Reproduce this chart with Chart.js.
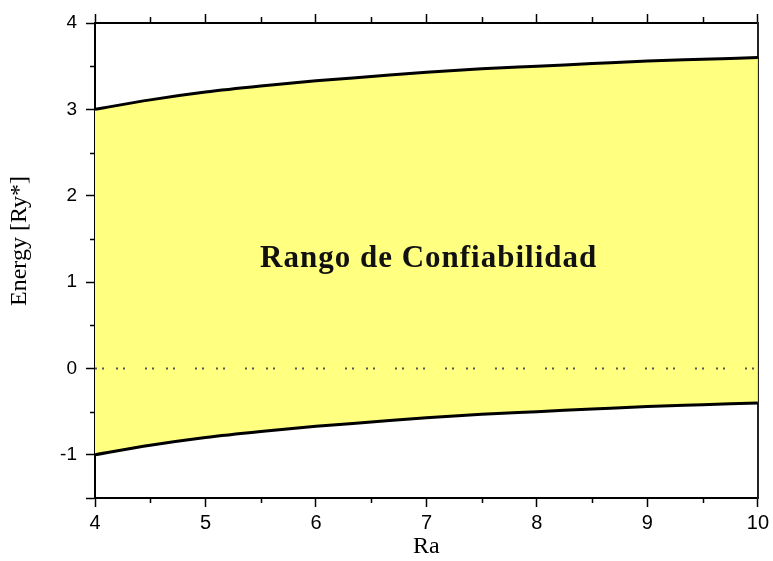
<!DOCTYPE html>
<html>
<head>
<meta charset="utf-8">
<style>
  html, body { margin: 0; padding: 0; background: #fff; }
  #wrap { width: 773px; height: 561px; }
</style>
<script src="https://cdn.jsdelivr.net/npm/chart.js@4"></script>
</head>
<body>
<div id="wrap"><canvas id="chart" width="773" height="561"></canvas></div>
<script>
// Ra values and band limits
const ra = [4, 4.5, 5, 5.5, 6, 6.5, 7, 7.5, 8, 8.5, 9, 9.5, 10];
const upperEnergy = [3.00, 3.11, 3.20, 3.27, 3.33, 3.38, 3.43, 3.47, 3.50, 3.53, 3.56, 3.58, 3.60];
const lowerEnergy = [-1.00, -0.89, -0.80, -0.73, -0.67, -0.62, -0.57, -0.53, -0.50, -0.47, -0.44, -0.42, -0.40];
const zeroLine = [0, 0];
const zeroRa = [4, 10];
const bandLabel = 'Rango de Confiabilidad';

const sansFont = "'Liberation Sans', Arial, sans-serif";
const serifFont = "'Liberation Serif', 'Times New Roman', serif";

const toPoints = (xs, ys) => xs.map((x, i) => ({ x: x, y: ys[i] }));

// minor ticks, y title and the band label
const extras = {
    id: 'extras',
    afterDraw(chart) {
        const ctx = chart.ctx;
        const x = chart.scales.x, y = chart.scales.y;
        const area = chart.chartArea;
        ctx.save();
        ctx.strokeStyle = '#000';
        ctx.lineWidth = 1.5;
        ctx.beginPath();
        for (let v = 4.5; v < 10; v += 1) {
            const px = Math.round(x.getPixelForValue(v)) + 0.5;
            ctx.moveTo(px, area.bottom); ctx.lineTo(px, area.bottom + 5);
            ctx.moveTo(px, area.top); ctx.lineTo(px, area.top - 6);
        }
        for (let v = -0.5; v < 4; v += 1) {
            const py = Math.round(y.getPixelForValue(v)) + 0.5;
            ctx.moveTo(area.left, py); ctx.lineTo(area.left - 5, py);
        }
        ctx.stroke();

        ctx.fillStyle = '#000';
        ctx.font = '24px ' + serifFont;
        ctx.textAlign = 'center';
        ctx.textBaseline = 'middle';
        ctx.translate(20, 241);
        ctx.rotate(-Math.PI / 2);
        ctx.fillText('Energy [Ry*]', 0, 0);
        ctx.restore();

        ctx.save();
        ctx.fillStyle = '#111';
        ctx.font = 'bold 31px ' + serifFont;
        ctx.letterSpacing = '1px';
        ctx.textAlign = 'center';
        ctx.textBaseline = 'alphabetic';
        ctx.fillText(bandLabel, x.getPixelForValue(7.02), y.getPixelForValue(1.18));
        ctx.restore();
    }
};

new Chart(document.getElementById('chart'), {
    type: 'line',
    data: {
        datasets: [{
            data: toPoints(ra, upperEnergy),
            borderColor: '#000',
            borderWidth: 3,
            backgroundColor: '#ffff80',
            fill: '+1',
            pointRadius: 0,
            cubicInterpolationMode: 'monotone'
        }, {
            data: toPoints(ra, lowerEnergy),
            borderColor: '#000',
            borderWidth: 3,
            fill: false,
            pointRadius: 0,
            cubicInterpolationMode: 'monotone'
        }, {
            data: toPoints(zeroRa, zeroLine),
            borderColor: '#555',
            borderWidth: 2,
            borderDash: [2, 5, 2, 12, 2, 5, 2, 20],
            fill: false,
            pointRadius: 0,
            order: -1
        }]
    },
    options: {
        responsive: false,
        animation: false,
        layout: { padding: 0 },
        plugins: {
            legend: { display: false },
            tooltip: { enabled: false },
            filler: { drawTime: 'beforeDatasetsDraw' }
        },
        scales: {
            x: {
                type: 'linear',
                position: 'bottom',
                min: 4, max: 10,
                afterFit: s => { s.height = 63; },
                ticks: {
                    stepSize: 1,
                    padding: 4,
                    color: '#000',
                    font: { family: sansFont, size: 20 }
                },
                grid: { drawOnChartArea: false, tickLength: 9, tickWidth: 1.5, tickColor: '#000' },
                border: { color: '#000', width: 2 },
                title: {
                    display: true,
                    text: 'Ra',
                    color: '#000',
                    font: { family: serifFont, size: 24 },
                    padding: { top: 2, bottom: 0 }
                }
            },
            x2: {
                type: 'linear',
                position: 'top',
                min: 4, max: 10,
                afterFit: s => { s.height = 23; },
                ticks: { stepSize: 1, callback: () => '' },
                grid: { drawOnChartArea: false, tickLength: 9, tickWidth: 1.5, tickColor: '#000' },
                border: { color: '#000', width: 2 }
            },
            y: {
                type: 'linear',
                position: 'left',
                min: -1.5, max: 4,
                afterFit: s => { s.width = 95; },
                ticks: {
                    stepSize: 1,
                    padding: 9,
                    color: '#000',
                    font: { family: sansFont, size: 19 },
                    callback: v => Number.isInteger(v) ? v : ''
                },
                grid: { drawOnChartArea: false, tickLength: 9, tickWidth: 1.5, tickColor: '#000' },
                border: { color: '#000', width: 2 }
            },
            y2: {
                type: 'linear',
                position: 'right',
                min: -1.5, max: 4,
                afterFit: s => { s.width = 13; },
                ticks: { display: false },
                grid: { drawOnChartArea: false, drawTicks: false },
                border: { color: '#222', width: 2 }
            }
        }
    },
    plugins: [extras]
});
</script>
</body>
</html>
